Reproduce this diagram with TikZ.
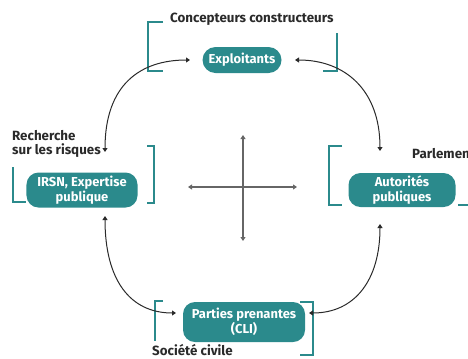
\documentclass[tikz,border=0pt]{standalone}
\usepackage{fontspec}
\setmainfont{Fira Sans}
\usetikzlibrary{arrows.meta}
\definecolor{teal1}{HTML}{2B8A8C}
\definecolor{ink}{HTML}{2A2A2A}
\tikzset{
  actor/.style={fill=teal1, text=white, rounded corners=12bp, align=center, font=\bfseries\fontsize{13}{15.5}\selectfont, inner sep=0pt},
  label/.style={text=ink, font=\bfseries\fontsize{13.4}{14}\selectfont, inner sep=0pt, align=left},
  bracket/.style={draw=teal1, line width=2.4bp},
  link/.style={draw=ink, line width=1bp, {Triangle[width=5bp,length=4bp]}-{Triangle[width=5bp,length=4bp]}},
  axis/.style={draw=gray!80!black, line width=1.4bp, {Triangle[width=5bp,length=4bp]}-{Triangle[width=5bp,length=4bp]}}
}
\begin{document}
\begin{tikzpicture}[x=1bp,y=-1bp]
\useasboundingbox (0,0) rectangle (468,358);
\clip (0,0) rectangle (468,358);
% nodes
\node[actor, minimum width=79bp, minimum height=26bp, rounded corners=13bp] (expl) at (242,60) {Exploitants};
\node[actor, minimum width=111bp, minimum height=35bp] (irsn) at (82,190) {IRSN, Expertise\\publique};
\node[actor, minimum width=107bp, minimum height=34bp] (auto) at (402,190) {Autorités\\publiques};
\node[actor, minimum width=122bp, minimum height=40bp] (part) at (244,322) {Parties prenantes\\(CLI)};
% labels
\node[label, anchor=west] (conc) at (170,19) {Concepteurs constructeurs};
\node[label, anchor=north west] (rech) at (12,130) {Recherche\\sur les risques};
\node[label, anchor=west] (parl) at (412,154) {Parlement};
\node[label, anchor=west] (soc) at (152,350) {Société civile};
% brackets
\draw[bracket] (163,22) -- (148,22) -- (148,71) -- (163,71);
\draw[bracket] (337,33) -- (337,71) -- (323,71);
\draw[bracket] (13,167) -- (13,202) -- (26,202);
\draw[bracket] (147,146) -- (154,146) -- (154,203) -- (147,203);
\draw[bracket] (342,146) -- (329,146) -- (329,205) -- (342,205);
\draw[bracket] (458,205) -- (470,205);
\draw[bracket] (163,301) -- (155,301) -- (155,341);
\draw[bracket] (300,302) -- (313,302) -- (313,355) -- (300,355);
% connector ends
\coordinate (eL) at (190,60);
\coordinate (eR) at (295,60);
\coordinate (iT) at (105,152);
\coordinate (iB) at (105,216);
\coordinate (aT) at (380,151);
\coordinate (aB) at (380,224);
\coordinate (pL) at (176,313);
\coordinate (pR) at (309,313);
\draw[link] (iT) .. controls (105,85) and (140,60) .. (eL);
\draw[link] (eR) .. controls (345,60) and (380,90) .. (aT);
\draw[link] (iB) .. controls (105,280) and (130,313) .. (pL);
\draw[link] (pR) .. controls (355,313) and (380,280) .. (aB);
% cross
\coordinate (cT) at (243,135);
\coordinate (cB) at (243,241);
\coordinate (cL) at (188,187);
\coordinate (cR) at (297,187);
\draw[axis] (cT) -- (cB);
\draw[axis] (cL) -- (cR);
\end{tikzpicture}
\end{document}
